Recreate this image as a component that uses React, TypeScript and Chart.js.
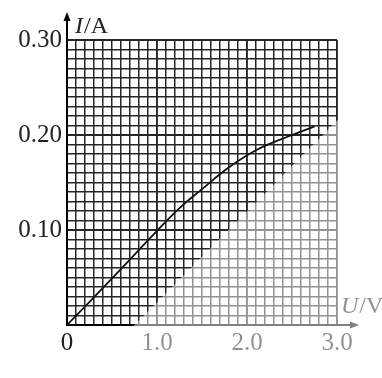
import React, { useEffect, useRef } from "react";
import { Chart, registerables } from "chart.js";

Chart.register(...registerables);

// Data (U in volts, I in amperes)
const voltages = [0, 0.5, 1.0, 1.25, 1.5, 1.8, 2.1, 2.5, 2.75];
const currents = [0, 0.049, 0.099, 0.123, 0.143, 0.166, 0.184, 0.2, 0.209];

const xMin = 0;
const xMax = 3;
const xStep = 0.1;
const yMin = 0;
const yMax = 0.3;
const yStep = 0.01;
const xLabelValues = [0, 1, 2, 3];
const yLabelValues = [0.1, 0.2, 0.3];
const yAxisName = ["I", "/A"];
const xAxisName = ["U", "/V"];

const FONT = "'Liberation Serif', 'Times New Roman', serif";

const near = (a: number, b: number) => Math.abs(a - b) < 1e-6;

const decorPlugin = {
  id: "decor",
  afterDraw(chart: any) {
    const ctx = chart.ctx;
    const { left, right, top, bottom } = chart.chartArea;
    const W = chart.width;
    const H = chart.height;
    ctx.save();
    // axis extensions with arrows
    ctx.strokeStyle = "#000";
    ctx.fillStyle = "#000";
    ctx.lineWidth = 2;
    ctx.beginPath();
    ctx.moveTo(left, top);
    ctx.lineTo(left, 18);
    ctx.stroke();
    ctx.beginPath();
    ctx.moveTo(left, 12);
    ctx.lineTo(left - 3.5, 21);
    ctx.lineTo(left + 3.5, 21);
    ctx.closePath();
    ctx.fill();

    ctx.beginPath();
    ctx.moveTo(right, bottom);
    ctx.lineTo(352, bottom);
    ctx.stroke();
    ctx.beginPath();
    ctx.moveTo(359, bottom);
    ctx.lineTo(350, bottom - 3.5);
    ctx.lineTo(350, bottom + 3.5);
    ctx.closePath();
    ctx.fill();

    // axis names
    ctx.fillStyle = "#222";
    ctx.textBaseline = "alphabetic";
    ctx.textAlign = "left";
    ctx.font = `italic 24px ${FONT}`;
    ctx.fillText(yAxisName[0], 75, 33);
    let w = ctx.measureText(yAxisName[0]).width;
    ctx.font = `24px ${FONT}`;
    ctx.fillText(yAxisName[1], 75 + w + 1, 33);

    ctx.font = `italic 24px ${FONT}`;
    ctx.fillText(xAxisName[0], 341, 313);
    w = ctx.measureText(xAxisName[0]).width;
    ctx.font = `24px ${FONT}`;
    ctx.fillText(xAxisName[1], 341 + w + 1, 313);

    // faded lower-right region of the scanned picture
    const xs = chart.scales.x;
    const ys = chart.scales.y;
    const x0 = xs.getPixelForValue(0.75);
    const y0 = ys.getPixelForValue(0);
    const x1 = xs.getPixelForValue(3);
    const y1 = ys.getPixelForValue(0.215);
    const m = (y1 - y0) / (x1 - x0);
    const xAtH = x0 + (H - y0) / m;
    const yAtW = y0 + m * (W - x0);
    ctx.fillStyle = "rgba(255,255,255,0.5)";
    ctx.beginPath();
    ctx.moveTo(xAtH, H);
    ctx.lineTo(W, yAtW);
    ctx.lineTo(W, H);
    ctx.closePath();
    ctx.fill();
    ctx.restore();
  },
};

export default function App() {
  const ref = useRef<HTMLCanvasElement | null>(null);

  useEffect(() => {
    if (!ref.current) return;
    const points = voltages.map((u, i) => ({ x: u, y: currents[i] }));
    const chart = new Chart(ref.current, {
      type: "line",
      data: {
        datasets: [
          {
            data: points,
            borderColor: "#111",
            borderWidth: 1.8,
            pointRadius: 0,
            fill: false,
            tension: 0.4,
          },
        ],
      },
      options: {
        responsive: false,
        animation: false,
        layout: { padding: { left: 0, right: 45, top: 40, bottom: 0 } },
        plugins: {
          legend: { display: false },
          tooltip: { enabled: false },
          title: { display: false },
        },
        scales: {
          x: {
            type: "linear",
            min: xMin,
            max: xMax,
            afterFit: (s: any) => {
              s.height = 53;
            },
            ticks: {
              stepSize: xStep,
              autoSkip: false,
              maxRotation: 0,
              padding: 3,
              color: "#222",
              font: { family: FONT, size: 25 },
              callback: (v: any) => {
                const n = Number(v);
                const hit = xLabelValues.find((t) => near(t, n));
                if (hit === undefined) return "";
                return hit === 0 ? "0" : hit.toFixed(1);
              },
            },
            grid: {
              color: "#262626",
              lineWidth: (c: any) =>
                c.tick && near(Math.round(c.tick.value), c.tick.value) ? 1.9 : 1.5,
              drawTicks: false,
            },
            border: { display: true, color: "#000", width: 2 },
          },
          y: {
            type: "linear",
            min: yMin,
            max: yMax,
            afterFit: (s: any) => {
              s.width = 67;
            },
            ticks: {
              stepSize: yStep,
              autoSkip: false,
              padding: 5,
              color: "#222",
              font: { family: FONT, size: 25 },
              callback: (v: any) => {
                const n = Number(v);
                const hit = yLabelValues.find((t) => near(t, n));
                return hit === undefined ? "" : hit.toFixed(2);
              },
            },
            grid: {
              color: "#262626",
              lineWidth: (c: any) =>
                c.tick && near(Math.round(c.tick.value * 10) / 10, c.tick.value) ? 1.9 : 1.5,
              drawTicks: false,
            },
            border: { display: true, color: "#000", width: 2 },
          },
        },
      },
      plugins: [decorPlugin],
    } as any);
    return () => chart.destroy();
  }, []);

  return (
    <div style={{ position: "absolute", left: 0, top: 0, width: 382, height: 378, background: "#fff" }}>
      <canvas ref={ref} width={382} height={378} style={{ display: "block" }} />
    </div>
  );
}
